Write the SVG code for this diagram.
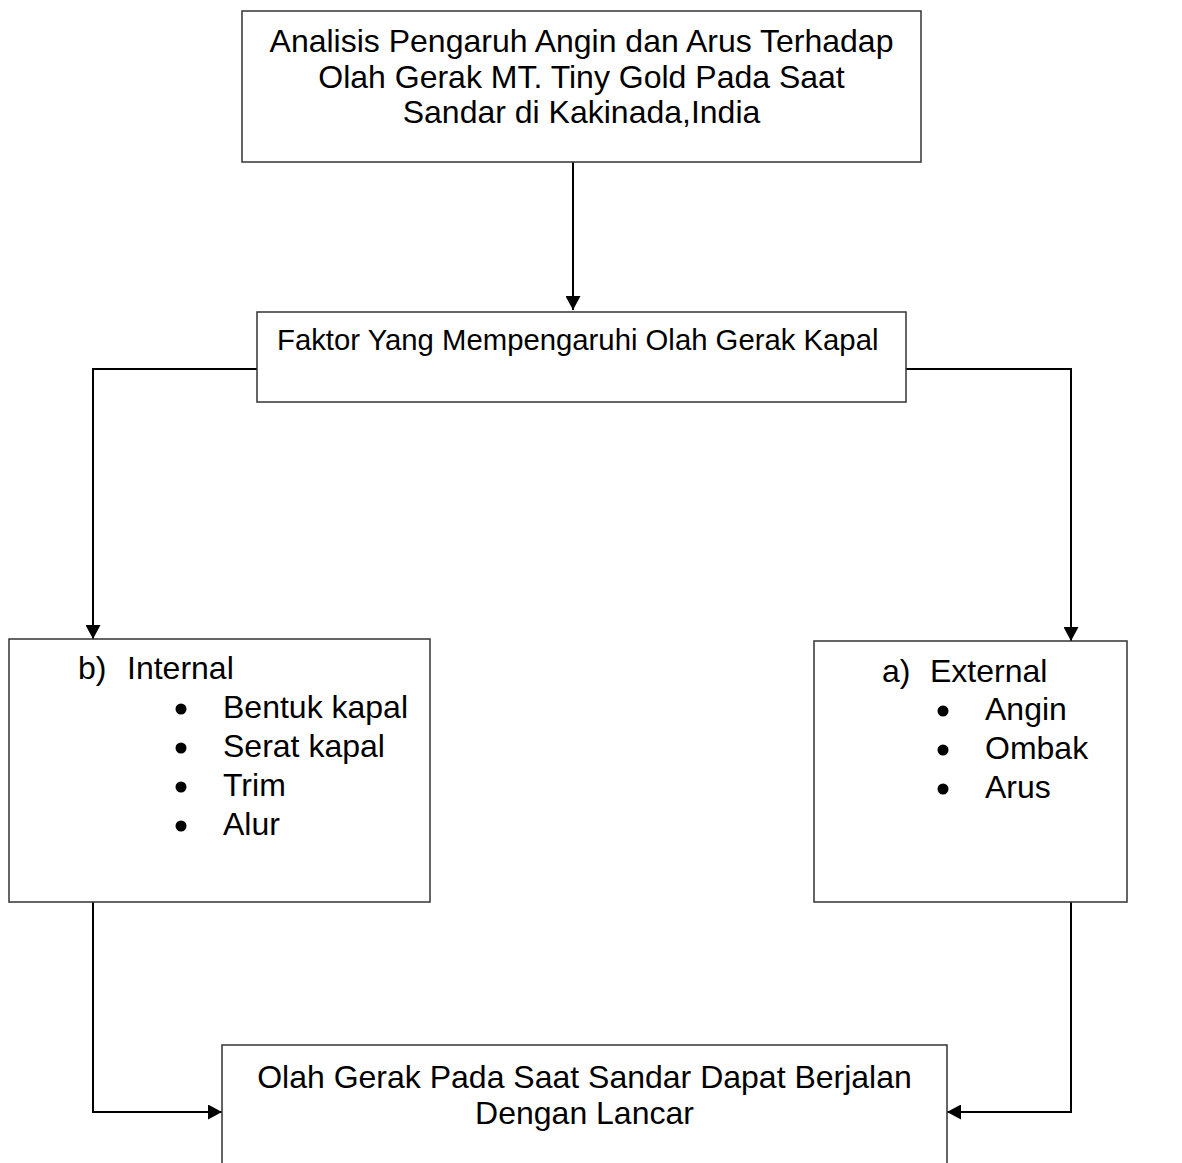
<svg xmlns="http://www.w3.org/2000/svg" width="1182" height="1163" viewBox="0 0 1182 1163">
<defs>
<style>
.box{fill:#fff;stroke:#333;stroke-width:1.5}
.t{font-family:"Liberation Sans",Arial,sans-serif;font-size:32px;fill:#000}
.tm{font-family:"Liberation Sans",Arial,sans-serif;font-size:29.3px;fill:#000}
.c{text-anchor:middle}
.conn{fill:none;stroke:#000;stroke-width:2}
.dot{fill:#000}
</style>
<marker id="arrow" markerUnits="userSpaceOnUse" markerWidth="15" markerHeight="15" refX="14" refY="7.5" orient="auto" viewBox="0 0 15 15">
<path d="M0,0 L14,7.5 L0,15 z" fill="#000"/>
</marker>
</defs>
<rect width="1182" height="1163" fill="#fff"/>
<g id="connectors">
<path class="conn" d="M573,162 L573,310" marker-end="url(#arrow)"/>
<path class="conn" d="M257,369 L93,369 L93,639" marker-end="url(#arrow)"/>
<path class="conn" d="M906,369 L1071,369 L1071,641" marker-end="url(#arrow)"/>
<path class="conn" d="M93,902 L93,1112 L222,1112" marker-end="url(#arrow)"/>
<path class="conn" d="M1071,902 L1071,1112 L947,1112" marker-end="url(#arrow)"/>
</g>
<g id="node-title">
<rect class="box" x="242" y="11" width="679" height="151"/>
<text class="t c" x="581.5" y="52">Analisis Pengaruh Angin dan Arus Terhadap</text>
<text class="t c" x="581.5" y="88">Olah Gerak MT. Tiny Gold Pada Saat</text>
<text class="t c" x="581.5" y="123">Sandar di Kakinada,India</text>
</g>
<g id="node-faktor">
<rect class="box" x="257" y="312" width="649" height="90"/>
<text class="tm" x="277" y="350">Faktor Yang Mempengaruhi Olah Gerak Kapal</text>
</g>
<g id="node-internal">
<rect class="box" x="9" y="639" width="421" height="263"/>
<text class="t" x="78" y="679">b)</text>
<text class="t" x="127" y="679">Internal</text>
<circle class="dot" cx="181" cy="709" r="5.5"/>
<text class="t" x="223" y="718">Bentuk kapal</text>
<circle class="dot" cx="181" cy="748" r="5.5"/>
<text class="t" x="223" y="757">Serat kapal</text>
<circle class="dot" cx="181" cy="787" r="5.5"/>
<text class="t" x="223" y="796">Trim</text>
<circle class="dot" cx="181" cy="826" r="5.5"/>
<text class="t" x="223" y="835">Alur</text>
</g>
<g id="node-external">
<rect class="box" x="814" y="641" width="313" height="261"/>
<text class="t" x="882" y="682">a)</text>
<text class="t" x="930" y="682">External</text>
<circle class="dot" cx="943" cy="711" r="5.5"/>
<text class="t" x="985" y="720">Angin</text>
<circle class="dot" cx="943" cy="750" r="5.5"/>
<text class="t" x="985" y="759">Ombak</text>
<circle class="dot" cx="943" cy="789" r="5.5"/>
<text class="t" x="985" y="798">Arus</text>
</g>
<g id="node-result">
<rect class="box" x="222" y="1045" width="725" height="140"/>
<text class="t c" x="584.5" y="1088">Olah Gerak Pada Saat Sandar Dapat Berjalan</text>
<text class="t c" x="584.5" y="1124">Dengan Lancar</text>
</g>
</svg>
